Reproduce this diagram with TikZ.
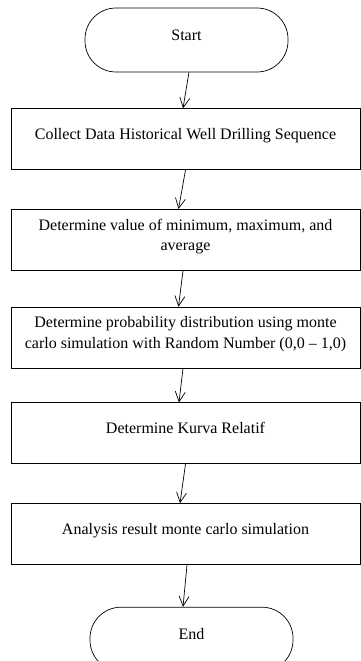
\documentclass[tikz,border=0pt]{standalone}
\usepackage{fontspec}
\setmainfont{Liberation Serif}
\usetikzlibrary{positioning,arrows.meta}

\begin{document}
\begin{tikzpicture}[
  x=1pt, y=1pt,
  node distance=36pt,
  term/.style={draw, rounded corners=31pt, minimum width=203pt, minimum height=64pt, text depth=10pt, font=\fontsize{16}{20.5}\selectfont},
  box/.style={draw, align=center, minimum width=349pt, minimum height=61pt, inner sep=2pt, text depth=10pt, font=\fontsize{16}{20.5}\selectfont},
  arr/.style={-{Straight Barb[length=10pt,width=10pt]}, line width=0.7pt}
]
\useasboundingbox (0,0) rectangle (361,-661);
\node[term, line width=0.7pt] (start) at (186.5,-40) {Start};
\node[box, line width=0.7pt, below=36pt of start, xshift=-1pt] (collect) {Collect Data Historical Well Drilling Sequence};
\node[box, line width=0.7pt, below=39pt of collect] (minmax) {Determine value of minimum, maximum, and\\average};
\node[box, line width=0.7pt, below=36pt of minmax] (prob) {Determine probability distribution using monte\\carlo simulation with Random Number (0,0 -- 1,0)};
\node[box, line width=0.7pt, below=34pt of prob] (kurva) {Determine Kurva Relatif};
\node[box, line width=0.7pt, below=39pt of kurva] (result) {Analysis result monte carlo simulation};
\node[term, line width=0.7pt, below=42pt of result, xshift=6pt] (end) {End};
% connectors
\draw[arr] ([xshift=2.5pt]start.south) -- ([xshift=-2.5pt]collect.north);
\draw[arr] (collect.south) -- ([xshift=-7pt]minmax.north);
\draw[arr] ([xshift=-2.5pt]minmax.south) -- ([xshift=-7pt]prob.north);
\draw[arr] ([xshift=-2.5pt]prob.south) -- ([xshift=-6.5pt]kurva.north);
\draw[arr] (kurva.south) -- ([xshift=-5.5pt]result.north);
\draw[arr] ([xshift=1.5pt]result.south) -- ([xshift=-8.5pt]end.north);
\end{tikzpicture}
\end{document}
